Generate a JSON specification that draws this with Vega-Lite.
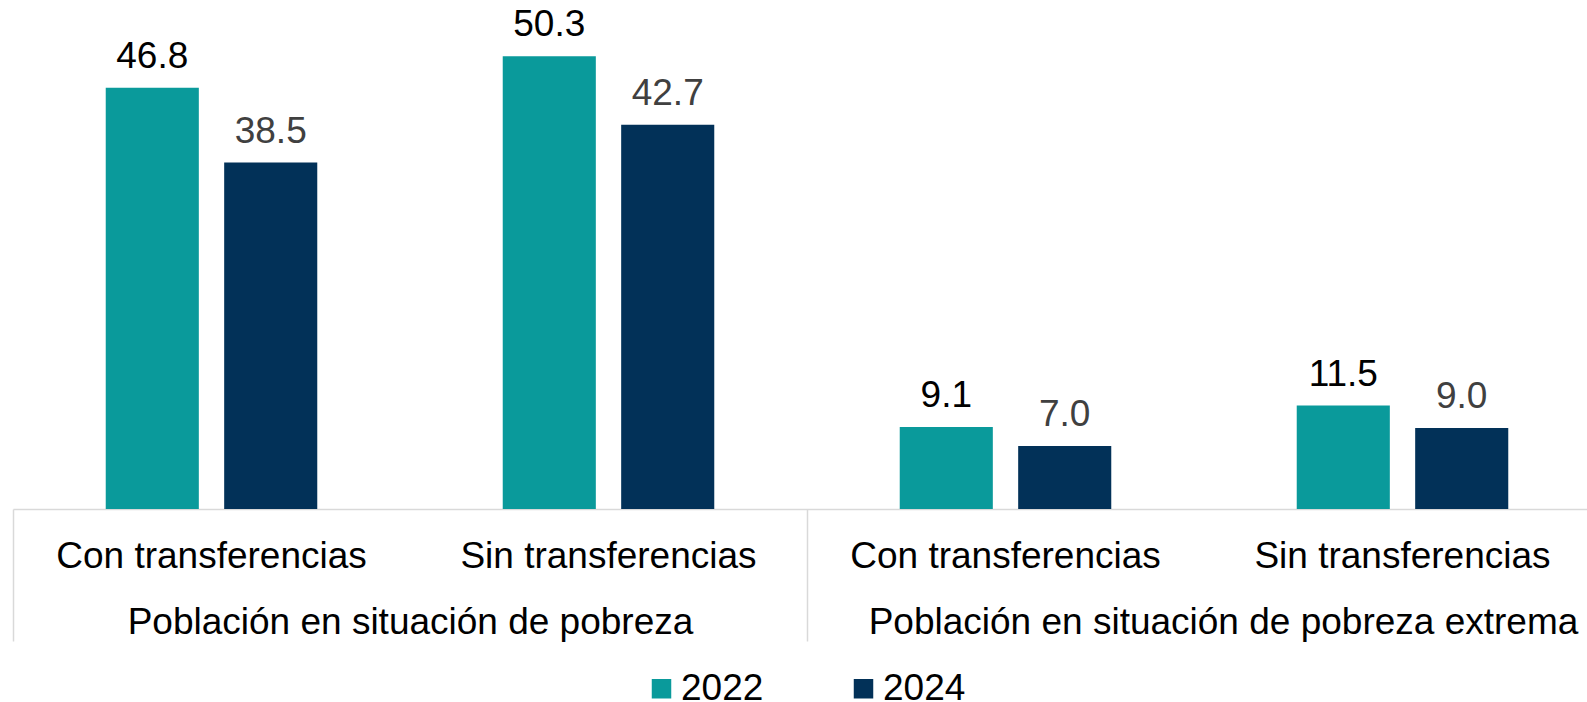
{
  "$schema": "https://vega.github.io/schema/vega-lite/v6.json",
  "width": 1574,
  "height": 504,
  "autosize": {"type": "none"},
  "padding": {"left": 13, "top": 5, "right": 0, "bottom": 193},
  "background": "#ffffff",
  "config": {"view": {"stroke": null}, "font": "Liberation Sans"},
  "data": {
    "values": [
      {"key": "P|Con", "year": "2022", "value": 46.8},
      {"key": "P|Con", "year": "2024", "value": 38.5},
      {"key": "P|Sin", "year": "2022", "value": 50.3},
      {"key": "P|Sin", "year": "2024", "value": 42.7},
      {"key": "E|Con", "year": "2022", "value": 9.1},
      {"key": "E|Con", "year": "2024", "value": 7.0},
      {"key": "E|Sin", "year": "2022", "value": 11.5},
      {"key": "E|Sin", "year": "2024", "value": 9.0}
    ]
  },
  "layer": [
    {
      "encoding": {
        "x": {
          "field": "key", "type": "nominal",
          "scale": {"type": "band", "domain": ["P|Con", "P|Sin", "E|Con", "E|Sin"], "range": [0, 1588], "paddingInner": 0, "paddingOuter": 0},
          "axis": {
            "orient": "bottom", "title": null, "labelAngle": 0,
            "labelExpr": "indexof(datum.value, 'Con') >= 0 ? 'Con transferencias' : 'Sin transferencias'",
            "labelFontSize": 37, "labelColor": "#000000", "labelPadding": 58, "labelBaseline": "alphabetic",
            "labelLimit": 0, "ticks": false, "tickSize": 0, "domainColor": "#D9D9D9", "domainWidth": 1.5, "grid": false
          }
        },
        "xOffset": {"field": "year", "type": "nominal", "scale": {"paddingInner": 0.214, "paddingOuter": 0.783}},
        "y": {"field": "value", "type": "quantitative", "scale": {"domain": [0, 56]}, "axis": null}
      },
      "layer": [
        {
          "mark": {"type": "bar"},
          "encoding": {
            "color": {
              "field": "year", "type": "nominal",
              "scale": {"domain": ["2022", "2024"], "range": ["#0A9A9B", "#023158"]},
              "legend": {
                "orient": "none", "legendX": 630, "legendY": 665, "direction": "horizontal", "title": null,
                "symbolType": "square", "symbolSize": 380, "symbolStrokeWidth": 0, "symbolOpacity": 1,
                "labelFontSize": 37, "labelOffset": 1, "columnPadding": 81, "labelColor": "#000000", "padding": 0
              }
            }
          }
        },
        {
          "mark": {"type": "text", "dy": -20, "baseline": "alphabetic", "align": "center", "fontSize": 37},
          "encoding": {
            "text": {"field": "value", "type": "quantitative", "format": ".1f"},
            "color": {"condition": {"test": "datum.year == '2022'", "value": "#000000"}, "value": "#404040"}
          }
        }
      ]
    },
    {
      "mark": {"type": "point", "opacity": 0},
      "encoding": {
        "x": {
          "field": "key", "type": "nominal",
          "scale": {"type": "band", "domain": ["P|Con", "P|Sin", "E|Con", "E|Sin"], "range": [0, 1588], "paddingInner": 0, "paddingOuter": 0},
          "axis": {
            "orient": "bottom", "title": null, "values": ["P|Con", "E|Con"], "bandPosition": 0,
            "labels": false, "domain": false, "ticks": true, "tickSize": 132, "tickColor": "#D9D9D9", "tickWidth": 1.5, "grid": false
          }
        }
      }
    },
    {
      "mark": {"type": "point", "opacity": 0},
      "encoding": {
        "x": {
          "field": "key", "type": "nominal",
          "scale": {"type": "band", "domain": ["P|Con", "P|Sin", "E|Con", "E|Sin"], "range": [0, 1588], "paddingInner": 0, "paddingOuter": 0},
          "axis": {
            "orient": "bottom", "title": null, "values": ["P|Sin", "E|Sin"], "labelAngle": 0,
            "labelExpr": "datum.value == 'P|Sin' ? 'Población en situación de pobreza' : 'Población en situación de pobreza extrema'",
            "labelFontSize": 37, "labelColor": "#000000", "labelPadding": 124, "labelBaseline": "alphabetic", "labelLimit": 0,
            "labelOffset": {"condition": {"test": "datum.value == 'E|Sin'", "value": -179}, "value": -198},
            "ticks": false, "tickSize": 0, "domain": false, "grid": false
          }
        }
      }
    }
  ],
  "resolve": {"scale": {"x": "independent"}, "axis": {"x": "independent"}}
}
